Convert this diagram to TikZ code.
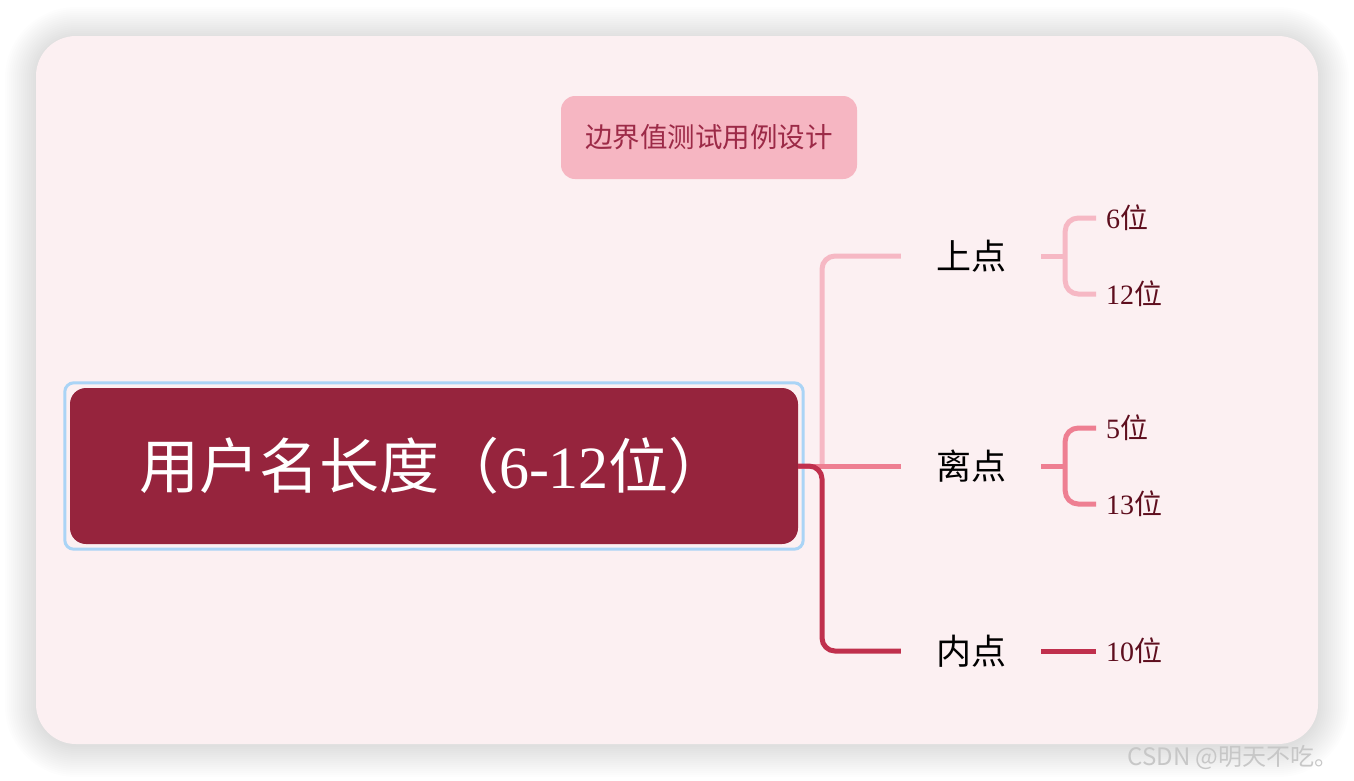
\documentclass[tikz,border=0pt]{standalone}
\usepackage{fontspec}
\setmainfont{Liberation Serif}
\newfontfamily\cjk{Noto Sans CJK SC}
\usetikzlibrary{positioning}

\definecolor{cardbg}{HTML}{FCF0F2}
\definecolor{titlefill}{HTML}{F6B6C2}
\definecolor{titletext}{HTML}{9C2A47}
\definecolor{rootfill}{HTML}{96243D}
\definecolor{selblue}{HTML}{AAD4F6}
\definecolor{lineA}{HTML}{F6B8C4}
\definecolor{lineB}{HTML}{EE7F92}
\definecolor{lineC}{HTML}{C0304D}
\definecolor{leaftext}{HTML}{5E0E1E}

\newcommand\dig[1]{{\rmfamily #1}}

\tikzset{
    titlebox/.style={fill=titlefill, rounded corners=14pt, text=titletext,
        minimum width=296pt, minimum height=83pt,
        font=\cjk\fontsize{27.5}{32}\selectfont},
    rootbox/.style={fill=rootfill, rounded corners=16pt, text=white,
        minimum width=728pt, minimum height=156pt,
        font=\cjk\fontsize{60}{68}\selectfont},
    branch/.style={inner xsep=35pt, inner ysep=4pt, text=black,
        font=\cjk\fontsize{35}{40}\selectfont},
    leaf/.style={anchor=west, inner xsep=10pt, inner ysep=2pt, text=leaftext,
        font=\cjk\fontsize{28}{32}\selectfont},
    conn/.style={line width=5pt, rounded corners=13pt},
}

\begin{document}
\begin{tikzpicture}[x=1pt, y=-1pt]
    \useasboundingbox (0,0) rectangle (1354,780);
    \fill[white] (0,0) rectangle (1354,780);

    % card with soft shadow
    \foreach \s in {1,3,...,31}
        \fill[black, opacity=0.0065, rounded corners={40+\s}]
            (36-\s,38-\s) rectangle (1318+\s,746+\s);
    \fill[cardbg, rounded corners=40pt] (36,36) rectangle (1318,744);

    \node[titlebox] (title) at (709,137.5) {边界值测试用例设计};

    % root topic
    \node[rootbox] (root) at (434,466)
        {用户名长度（\dig{6-12}位）};
    \draw[selblue, line width=3pt, rounded corners=9pt]
        ([shift={(-5,-5)}]root.north west) rectangle ([shift={(5,5)}]root.south east);

    % branches
    \node[branch] (up)  at (971,256) {上点};
    \node[branch] (out) at (971,466) {离点};
    \node[branch] (in)  at (971,651) {内点};
    \coordinate (trunk) at (822,466);

    \draw[conn, lineA] (trunk) |- (up.west);
    \draw[conn, lineB] (root.east) -- (out.west);
    \draw[conn, lineC] (root.east) -- (trunk) |- (in.west);

    % leaves
    \node[leaf] (l6)  at (1096,218) {\dig{6}位};
    \node[leaf] (l12) at (1096,294) {\dig{12}位};
    \node[leaf] (l5)  at (1096,428) {\dig{5}位};
    \node[leaf] (l13) at (1096,504) {\dig{13}位};
    \node[leaf] (l10) at (1096,651) {\dig{10}位};

    \draw[conn, lineA] (up.east) -- ++(25,0);
    \draw[conn, lineA] (l6.west) -| ([xshift=24]up.east) |- (l12.west);
    \draw[conn, lineB] (out.east) -- ++(25,0);
    \draw[conn, lineB] (l5.west) -| ([xshift=24]out.east) |- (l13.west);
    \draw[conn, lineC] (in.east) -- (l10.west);

    \node[anchor=east, text=black!22, font=\cjk\fontsize{24}{28}\selectfont]
        (mark) at (1342,757) {CSDN @明天不吃。};
\end{tikzpicture}
\end{document}
